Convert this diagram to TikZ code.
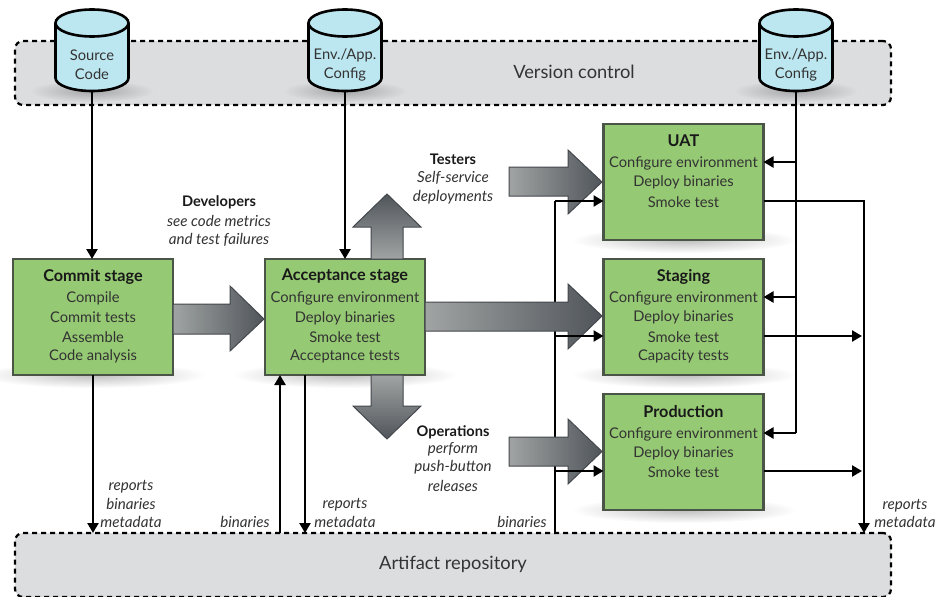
\documentclass[tikz,border=0pt]{standalone}
\usepackage{fontspec}
\setmainfont{Lato}
\usetikzlibrary{arrows.meta,fadings}
\definecolor{stagegreen}{HTML}{95C973}
\definecolor{stageedge}{HTML}{4A5548}
\definecolor{repogray}{HTML}{DCDDDF}
\definecolor{cylblue}{HTML}{BDE7F0}
\definecolor{inkgray}{HTML}{333333}
\definecolor{arrowlight}{HTML}{A0A4A3}
\definecolor{arrowdark}{HTML}{50555B}
\tikzfading[name=softglow, inner color=transparent!0, outer color=transparent!100]
\tikzset{
  x=1pt,y=-1pt,
  repo/.style={draw=black,line width=2.2pt,dash pattern=on 5pt off 4pt,fill=repogray,rounded corners=8pt,minimum width=876pt,minimum height=64pt,inner sep=0pt,outer sep=0pt},
  stagebox/.style={draw=stageedge,line width=2.4pt,fill=stagegreen,minimum width=160pt,minimum height=116pt,inner sep=0pt,outer sep=0pt},
  storebox/.style={minimum width=73pt,minimum height=81pt,inner sep=0pt,outer sep=0pt},
  drum/.style={draw=black,line width=2.6pt,fill=cylblue,line join=round},
  txt/.style={font=\fontsize{14.7pt}{17pt}\selectfont,text=inkgray,inner sep=0pt,anchor=center,yshift=-1.5pt},
  ttl/.style={font=\fontsize{16.2pt}{18pt}\selectfont\bfseries,text=black!90,inner sep=0pt,anchor=center,yshift=-1.5pt},
  who/.style={font=\fontsize{14.6pt}{17pt}\selectfont\bfseries,text=black!90,inner sep=0pt,anchor=center,yshift=-1.5pt},
  note/.style={font=\fontsize{15.2pt}{17pt}\selectfont\itshape,text=inkgray,inner sep=0pt,anchor=center,yshift=-1pt},
  big/.style={font=\fontsize{18.3pt}{20pt}\selectfont,text=inkgray,inner sep=0pt,anchor=center},
  link/.style={draw=black,line width=2.3pt,-{Triangle[length=10pt,width=11pt]}},
  plain/.style={draw=black,line width=2.3pt},
  heavy/.style={draw=black,line width=2.8pt},
  block/.style={draw=arrowdark!85!black,line width=1pt,left color=arrowlight,right color=arrowdark},
  blockup/.style={draw=arrowdark!85!black,line width=1pt,bottom color=arrowlight,top color=arrowdark},
  blockdown/.style={draw=arrowdark!85!black,line width=1pt,top color=arrowlight,bottom color=arrowdark},
  glow/.style={fill=black,opacity=.25,path fading=softglow},
}
\newcommand{\storedrum}[2]{%
  \node[storebox] (#1) at (#2,50.5) {};
  \draw[drum] (#2-36.5,23) -- (#2-36.5,78) arc[start angle=180,end angle=0,x radius=36.5,y radius=13] -- (#2+36.5,23);
  \draw[drum] (#2,23) ellipse (36.5 and 13.5);
}
\begin{document}
\begin{tikzpicture}
\useasboundingbox (0,0) rectangle (935,597);
% repositories
\node[repo] (vc) at (453,73) {};
\node[repo] (ar) at (453,565) {};
\node[big] (vclabel) at (574,72) {Version control};
\node[big] (arlabel) at (453,564) {Artifact repository};
% soft shadows
\fill[glow] (92,91) ellipse (62 and 11);
\fill[glow] (345,91) ellipse (62 and 11);
\fill[glow] (796,91) ellipse (62 and 11);
\fill[glow] (93,375) ellipse (112 and 13);
\fill[glow] (345,375) ellipse (112 and 13);
\fill[glow] (684,240) ellipse (112 and 13);
\fill[glow] (684,375) ellipse (112 and 13);
\fill[glow] (684,510) ellipse (112 and 13);
% stores
\storedrum{src}{92}
\storedrum{cfga}{345}
\storedrum{cfgb}{796}
\node[txt] (srct) at (92,54) {Source};
\node[txt] (srcb) at (92,73) {Code};
\node[txt] (cfgat) at (345,54) {Env./App.};
\node[txt] (cfgab) at (345,73) {Config};
\node[txt] (cfgbt) at (796,54) {Env./App.};
\node[txt] (cfgbb) at (796,73) {Config};
% bus under the block arrows
\coordinate (busfoot) at (555,533);
\coordinate (bustop) at (555,201);
\draw[heavy] (busfoot) -- (bustop);
% stage boxes
\node[stagebox] (commit) at (93,317) {};
\node[stagebox] (accept) at (345,317) {};
\node[stagebox] (uat) at (683.5,182) {};
\node[stagebox] (staging) at (683.5,317) {};
\node[stagebox] (prod) at (683.5,452) {};
% block arrows
\draw[block] (173,304) -- (230,304) -- (230,286) -- (264,319) -- (230,351) -- (230,334) -- (173,334) -- cycle;
\draw[block] (425,302) -- (568,302) -- (568,284) -- (602,316) -- (568,349) -- (568,331) -- (425,331) -- cycle;
\draw[block] (509,167) -- (568,167) -- (568,150) -- (602,182) -- (568,214) -- (568,196) -- (509,196) -- cycle;
\draw[block] (509,437) -- (568,437) -- (568,419) -- (602,451.5) -- (568,484) -- (568,466) -- (509,466) -- cycle;
\draw[blockup] (371,259) -- (371,227) -- (353,227) -- (387,194) -- (421,227) -- (403,227) -- (403,259) -- cycle;
\draw[blockdown] (371,375) -- (371,406) -- (353,406) -- (387,439) -- (421,406) -- (403,406) -- (403,375) -- cycle;
% stage texts
\node[ttl] (c0) at (93,275) {Commit stage};
\node[txt] (c1) at (93,297) {Compile};
\node[txt] (c2) at (93,316) {Commit tests};
\node[txt] (c3) at (93,336) {Assemble};
\node[txt] (c4) at (93,355) {Code analysis};
\node[ttl] (a0) at (345,275) {Acceptance stage};
\node[txt] (a1) at (345,297) {Configure environment};
\node[txt] (a2) at (345,317) {Deploy binaries};
\node[txt] (a3) at (345,336) {Smoke test};
\node[txt] (a4) at (345,355) {Acceptance tests};
\node[ttl] (u0) at (683.5,139) {UAT};
\node[txt] (u1) at (683.5,162) {Configure environment};
\node[txt] (u2) at (683.5,181) {Deploy binaries};
\node[txt] (u3) at (683.5,201) {Smoke test};
\node[ttl] (s0) at (683.5,275) {Staging};
\node[txt] (s1) at (683.5,297) {Configure environment};
\node[txt] (s2) at (683.5,316) {Deploy binaries};
\node[txt] (s3) at (683.5,336) {Smoke test};
\node[txt] (s4) at (683.5,355) {Capacity tests};
\node[ttl] (p0) at (683.5,410) {Production};
\node[txt] (p1) at (683.5,433) {Configure environment};
\node[txt] (p2) at (683.5,452) {Deploy binaries};
\node[txt] (p3) at (683.5,471) {Smoke test};
% notes
\node[who] (dev0) at (219,201) {Developers};
\node[note] (dev1) at (219,220) {see code metrics};
\node[note] (dev2) at (219,239) {and test failures};
\node[who] (tes0) at (453,158) {Testers};
\node[note] (tes1) at (453,177) {Self-service};
\node[note] (tes2) at (453,196) {deployments};
\node[who] (ops0) at (453,431) {Operations};
\node[note] (ops1) at (453,448) {perform};
\node[note] (ops2) at (453,466) {push-button};
\node[note] (ops3) at (453,485) {releases};
\node[note] (r1a) at (131,486) {reports};
\node[note] (r1b) at (131,503) {binaries};
\node[note] (r1c) at (131,521) {metadata};
\node[note] (b1) at (245,521) {binaries};
\node[note] (r2a) at (345,504) {reports};
\node[note] (r2b) at (345,521) {metadata};
\node[note] (b2) at (522,521) {binaries};
\node[note] (r3a) at (905,505) {reports};
\node[note] (r3b) at (905,521) {metadata};
% connectors
\draw[link] (src.south) -- (commit.north -| src.south);
\draw[link] (cfga.south) -- (accept.north -| cfga.south);
\draw[link] (commit.south) -- (ar.north -| commit.south);
\coordinate (upx) at (280,533);
\coordinate (downx) at (305,533);
\draw[link] (upx) -- (upx |- accept.south);
\draw[link] (downx |- accept.south) -- (downx);
% config line
\coordinate (cfgfoot) at (796,433);
\coordinate (y1) at (796,162);
\coordinate (y2) at (796,297);
\draw[heavy] (cfgb.south) -- (cfgfoot);
\draw[link] (y1) -- (uat.east |- y1);
\draw[link] (y2) -- (staging.east |- y2);
\draw[link] (cfgfoot) -- (prod.east |- cfgfoot);
% binaries into stages
\coordinate (in2) at (555,336);
\coordinate (in3) at (555,471);
\draw[link] (bustop) -- (uat.west |- bustop);
\draw[link] (in2) -- (staging.west |- in2);
\draw[link] (in3) -- (prod.west |- in3);
% reports out of stages
\coordinate (repx) at (864,533);
\coordinate (out1) at (864,201);
\draw[link] (uat.east |- out1) -- (out1) -- (repx);
\coordinate (repin) at (862,336);
\draw[link] (staging.east |- repin) -- (repin);
\coordinate (repin2) at (862,471);
\draw[link] (prod.east |- repin2) -- (repin2);
\end{tikzpicture}
\end{document}
